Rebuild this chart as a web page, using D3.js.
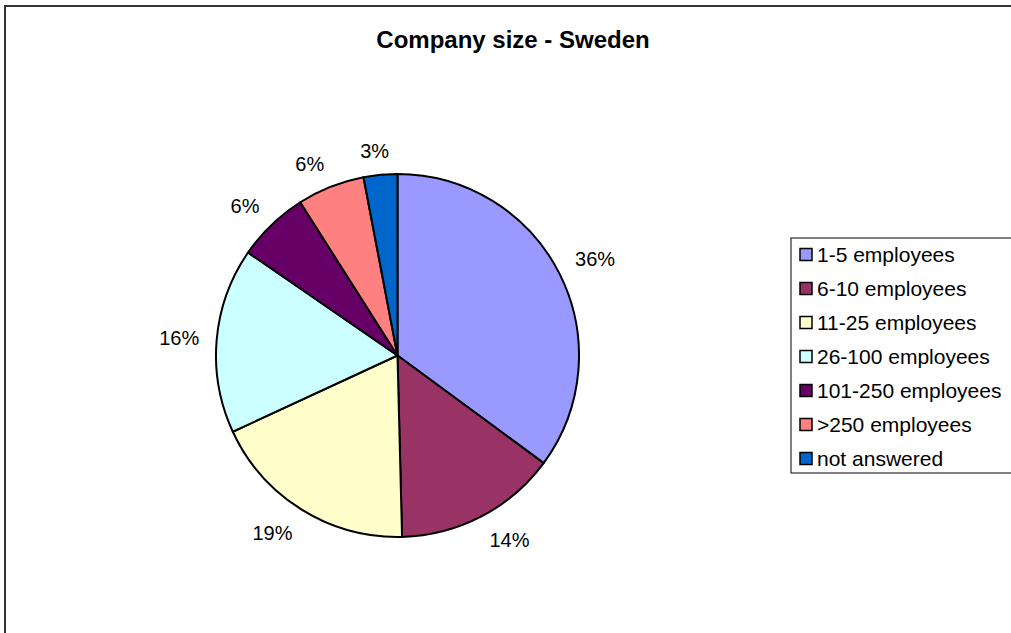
<!DOCTYPE html>
<html><head><meta charset="utf-8">
<script src="https://cdn.jsdelivr.net/npm/d3@7"></script>
<style>body{margin:0;background:#fff}svg{display:block}text{font-family:"Liberation Sans",Arial,sans-serif}</style>
</head><body>
<svg id="chart" width="1011" height="633"></svg>
<script>
const categories = ["1-5 employees","6-10 employees","11-25 employees","26-100 employees","101-250 employees",">250 employees","not answered"];
const values = [35.1, 14.5, 18.5, 16.5, 6.4, 6.0, 3.0];
const labels = ["36%","14%","19%","16%","6%","6%","3%"];
const colors = ["#9999FF","#993366","#FFFFCC","#CCFFFF","#660066","#FF8080","#0066CC"];
const title = "Company size - Sweden";

const svg = d3.select("#chart");
const W = 1011, H = 633;

// outer chart border
svg.append("rect").attr("x",5).attr("y",6).attr("width",W+10).attr("height",H+10)
  .attr("fill","#fff").attr("stroke","#333").attr("stroke-width",2);

svg.append("text").attr("x",513).attr("y",48).attr("text-anchor","middle")
  .attr("font-size",24).attr("font-weight","bold").text(title);

const cx = 397.5, cy = 355.5, r = 181.5;
const pie = d3.pie().sort(null).value(d=>d)(values);
const arc = d3.arc().innerRadius(0).outerRadius(r);
const g = svg.append("g").attr("transform",`translate(${cx},${cy})`);
g.selectAll("path").data(pie).join("path")
  .attr("d",arc).attr("fill",(d,i)=>colors[i])
  .attr("stroke","#000").attr("stroke-width",2).attr("stroke-linejoin","round");

const labelR = 199;
const clamp = v => Math.max(-1, Math.min(1, v*3));
g.selectAll("text.lbl").data(pie).join("text").attr("class","lbl")
  .attr("font-size",20).attr("text-anchor","middle").attr("dominant-baseline","central")
  .text((d,i)=>labels[i])
  .each(function(d){
    const a = (d.startAngle+d.endAngle)/2;
    const hw = this.getComputedTextLength()/2, hh = 7.5;
    const s = Math.sin(a), c = Math.cos(a);
    d3.select(this).attr("x",labelR*s + hw*clamp(s)).attr("y",-labelR*c - hh*clamp(c) + 1);
  });

// legend
const lg = svg.append("g");
lg.append("rect").attr("x",791).attr("y",238).attr("width",240).attr("height",235)
  .attr("fill","#fff").attr("stroke","#000").attr("stroke-width",1);
const y0 = 254.5, dy = 34;
const items = lg.selectAll("g.item").data(categories).join("g").attr("class","item")
  .attr("transform",(d,i)=>`translate(0,${y0+i*dy})`);
items.append("rect").attr("x",800).attr("y",-6).attr("width",12).attr("height",12)
  .attr("fill",(d,i)=>colors[i]).attr("stroke","#000").attr("stroke-width",1.5);
items.append("text").attr("x",817).attr("y",0).attr("dominant-baseline","central")
  .attr("font-size",21).text(d=>d);
</script>
</body></html>
